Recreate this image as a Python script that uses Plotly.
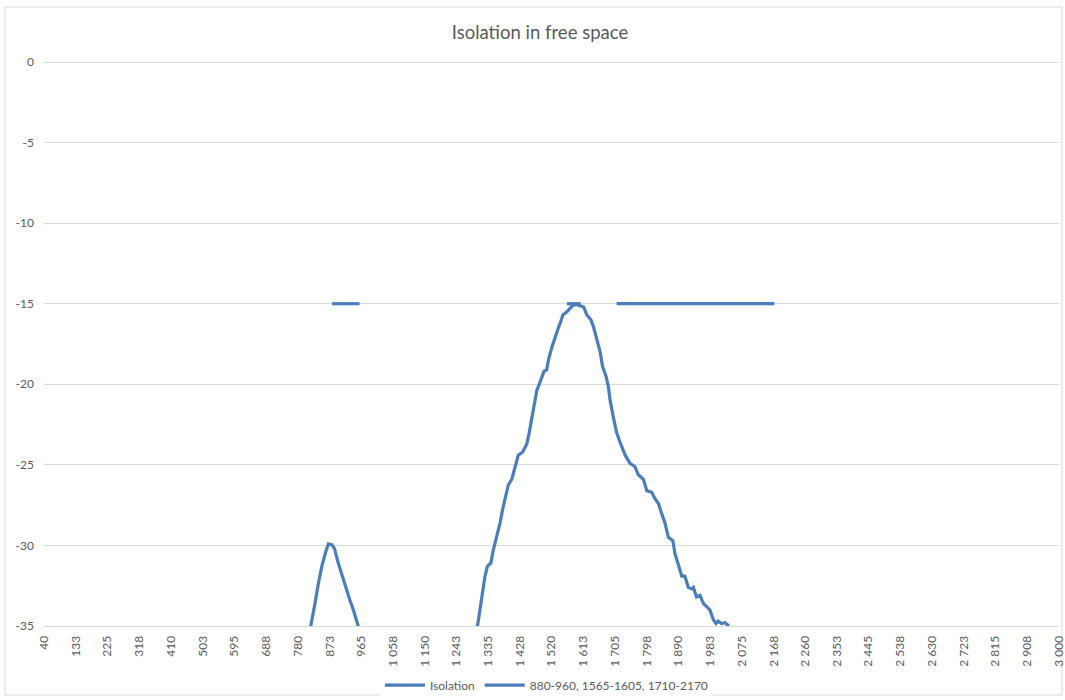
import plotly.graph_objects as go

# ---- data ----
iso_freq = [800, 819, 830, 840, 850, 860, 869, 879, 887, 898, 908, 923, 932, 942, 957, 970,
            None,
            1290, 1304, 1312, 1319, 1326, 1333, 1343, 1350, 1360, 1370, 1378, 1384, 1394, 1404,
            1414, 1423, 1436, 1448, 1455, 1462, 1467, 1477, 1486, 1498, 1506, 1511, 1521, 1530, 1540,
            1547, 1553, 1565, 1574, 1582, 1593, 1603, 1614, 1623, 1635, 1642, 1652, 1662, 1669,
            1679, 1686, 1691, 1700, 1710, 1720, 1735, 1749, 1763, 1773, 1788, 1798, 1812, 1822,
            1832, 1841, 1851, 1861, 1874, 1880, 1890, 1900, 1909, 1919, 1929, 1934, 1943, 1953,
            1963, 1972, 1982, 1992, 2000, 2006, 2016, 2026, 2035, 2045]
iso_db = [-37, -35.0, -33.6, -32.35, -31.3, -30.5, -29.9, -29.95, -30.2, -31.1, -31.8, -32.9, -33.4, -34.0, -35.0, -36,
          None,
          -37, -35.0, -33.8, -33.0, -31.9, -31.3, -31.1, -30.3, -29.5, -28.6, -27.7, -27.2, -26.25, -25.9,
          -25.1, -24.4, -24.2, -23.7, -23.0, -22.2, -21.4, -20.4, -19.9, -19.2, -19.1, -18.5, -17.7, -17.05, -16.5,
          -16.1, -15.7, -15.5, -15.3, -15.1, -15.05, -15.1, -15.2, -15.7, -16.0, -16.4, -17.25, -18.0, -18.9,
          -19.5, -20.15, -21.0, -22.0, -23.0, -23.6, -24.4, -24.9, -25.1, -25.6, -25.9, -26.6, -26.7, -27.1,
          -27.4, -28.0, -28.6, -29.5, -29.7, -30.5, -31.2, -31.9, -31.9, -32.6, -32.7, -32.6, -33.2, -33.1,
          -33.6, -33.8, -34.0, -34.6, -34.85, -34.7, -34.85, -34.8, -34.95, -36]

spec_freq = [880, 960, None, 1565, 1605, None, 1710, 2170]
spec_db = [-15, -15, None, -15, -15, None, -15, -15]

x_tickvals = [40, 133, 225, 318, 410, 503, 595, 688, 780, 873, 965, 1058, 1150, 1243, 1335, 1428,
              1520, 1613, 1705, 1798, 1890, 1983, 2075, 2168, 2260, 2353, 2445, 2538, 2630, 2723,
              2815, 2908, 3000]
x_ticktext = [f"{v:,}".replace(",", " ") for v in x_tickvals]
y_tickvals = [0, -5, -10, -15, -20, -25, -30, -35]
y_ticktext = ["0", "-5", "-10", "-15", "-20", "-25", "-30", "-35"]

LINE = "#4A7EBB"
TXT = "#595959"
GRID = "#d9d9d9"
FONT = "Lato, Liberation Sans, sans-serif"

fig = go.Figure()
fig.add_trace(go.Scatter(x=iso_freq, y=iso_db, mode="lines", name="Isolation",
                         line=dict(color=LINE, width=3.2), connectgaps=False))
fig.add_trace(go.Scatter(x=spec_freq, y=spec_db, mode="lines",
                         name="880-960, 1565-1605, 1710-2170",
                         line=dict(color=LINE, width=3.2), connectgaps=False))

fig.update_layout(
    width=1065, height=700,
    margin=dict(l=44, r=6, t=62, b=74, autoexpand=False),
    paper_bgcolor="white", plot_bgcolor="white",
    font=dict(family=FONT, color=TXT, size=12),
    title=dict(text="Isolation in free space", x=0.507, xanchor="center",
               y=1 - 33 / 700, yanchor="middle",
               font=dict(size=18.5, color=TXT, family=FONT)),
    showlegend=True,
    legend=dict(orientation="h", x=0.495, xanchor="center", y=-0.105, yanchor="middle",
                font=dict(size=12, color=TXT), itemwidth=40),
    hovermode=False,
)
fig.update_xaxes(range=[39.5, 3000.5], tickvals=x_tickvals, ticktext=x_ticktext,
                 tickangle=-90, showgrid=False, zeroline=False, automargin=False,
                 showline=True, linecolor=GRID, linewidth=1, ticklabeloverflow="allow",
                 ticks="", ticklabelstandoff=4, tickfont=dict(size=12, color=TXT))
fig.update_yaxes(range=[-35, 0], tickvals=y_tickvals, ticktext=y_ticktext,
                 showgrid=True, gridcolor=GRID, gridwidth=1, automargin=False,
                 zeroline=True, zerolinecolor=GRID, zerolinewidth=1,
                 showline=False, ticks="", ticklabelstandoff=9,
                 tickfont=dict(size=12, color=TXT))

# chart border
fig.add_shape(type="rect", xref="paper", yref="paper",
              x0=(5 - 44) / 1015, x1=(1062 - 44) / 1015,
              y0=(626 - 695) / 564, y1=(626 - 7) / 564,
              line=dict(color=GRID, width=1), fillcolor="rgba(0,0,0,0)", layer="below")

fig.write_html("out.html", config={"displayModeBar": False},
               post_script="document.body.style.margin='0';document.body.style.overflow='hidden';")
